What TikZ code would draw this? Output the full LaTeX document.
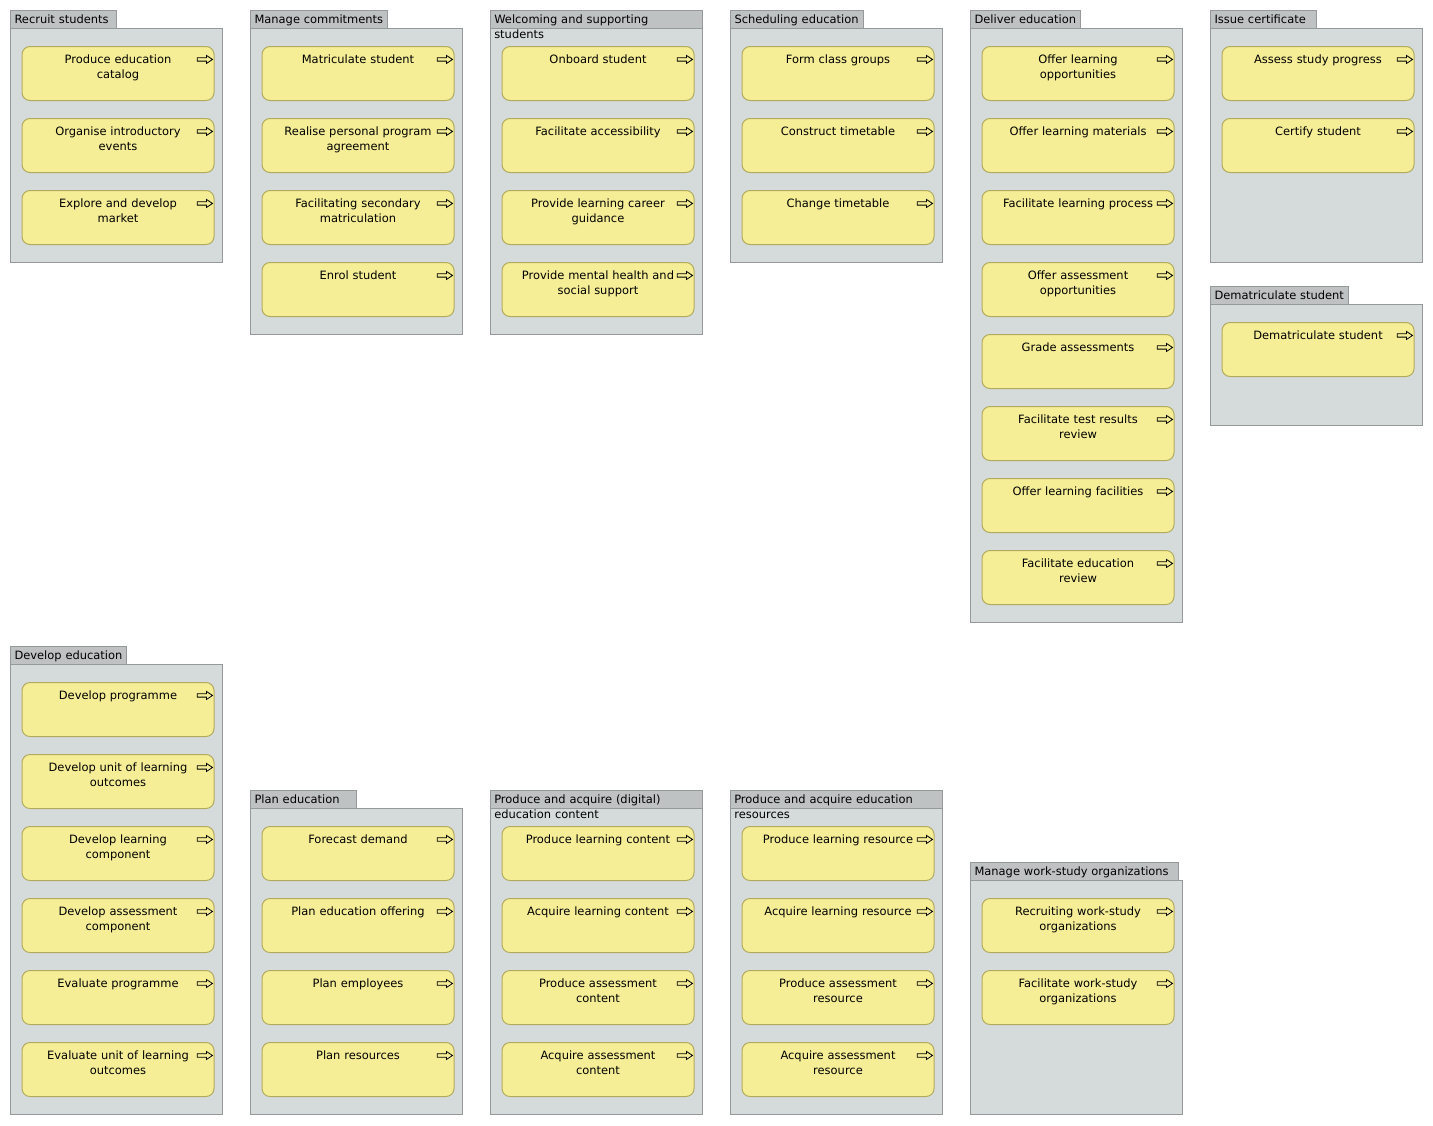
\documentclass[tikz,border=0pt]{standalone}
\usepackage{fontspec}
\setmainfont{DejaVu Sans}
\usetikzlibrary{positioning}

\definecolor{groupfill}{RGB}{213,218,219}
\definecolor{tabfill}{RGB}{191,194,195}
\definecolor{groupline}{RGB}{150,153,154}
\definecolor{procfill}{RGB}{245,238,151}
\definecolor{procline}{RGB}{180,170,94}

\newcommand{\lab}{\fontsize{8.6pt}{11.25pt}\selectfont}

\begin{document}
\begin{tikzpicture}[x = 0.75pt, y = -0.75pt,
    groupbody/.style = {draw = groupline, fill = groupfill, line width = 0.75pt},
    tabrect/.style = {draw = groupline, fill = tabfill, line width = 0.75pt},
    grouptab/.style = {tabrect, anchor = north west, font = \lab,
        text width = #1, align = left,
        inner xsep = 3pt, inner ysep = 0pt, text height = 9.75pt, text depth = 3.75pt},
    grouplabel/.style = {anchor = north west, font = \lab, align = left,
        text width = 153pt, inner sep = 0pt, text height = 9.75pt},
    proc/.style = {draw = procline, fill = procfill, line width = 0.75pt,
        rounded corners = 6pt, anchor = north, font = \lab,
        minimum width = 144pt, text width = 135pt, inner xsep = 4.5pt, inner ysep = 0pt,
        align = center, text height = 12.4pt, text depth = 28.1pt},
    procicon/.style = {draw = black, line width = 0.6pt, sharp corners}
]

    % Page size.
    \useasboundingbox (0, 0) rectangle (1433, 1125);

    % Recruit students.
    \draw[groupbody] (10, 28) rectangle (222, 262);
    \node[grouptab = 73.5pt] (rst) at (10, 10) {Recruit students};
    \node[proc] (rs1) at (118, 46) {Produce education\\catalog};
    \node[proc] (rs2) at (118, 118) {Organise introductory\\events};
    \node[proc] (rs3) at (118, 190) {Explore and develop\\market};

    % Manage commitments.
    \draw[groupbody] (250, 28) rectangle (462, 334);
    \node[grouptab = 96.75pt] (mct) at (250, 10) {Manage commitments};
    \node[proc] (mc1) at (358, 46) {Matriculate student};
    \node[proc] (mc2) at (358, 118) {Realise personal program\\agreement};
    \node[proc] (mc3) at (358, 190) {Facilitating secondary\\matriculation};
    \node[proc] (mc4) at (358, 262) {Enrol student};

    % Welcoming and supporting students.
    \draw[groupbody] (490, 28) rectangle (702, 334);
    \draw[tabrect] (490, 10) rectangle (702, 28);
    \node[grouplabel] (wst) at (494, 10) {Welcoming and supporting\\students};
    \node[proc] (ws1) at (598, 46) {Onboard student};
    \node[proc] (ws2) at (598, 118) {Facilitate accessibility};
    \node[proc] (ws3) at (598, 190) {Provide learning career\\guidance};
    \node[proc] (ws4) at (598, 262) {Provide mental health and\\social support};

    % Scheduling education.
    \draw[groupbody] (730, 28) rectangle (942, 262);
    \node[grouptab = 93.75pt] (set) at (730, 10) {Scheduling education};
    \node[proc] (se1) at (838, 46) {Form class groups};
    \node[proc] (se2) at (838, 118) {Construct timetable};
    \node[proc] (se3) at (838, 190) {Change timetable};

    % Deliver education.
    \draw[groupbody] (970, 28) rectangle (1182, 622);
    \node[grouptab = 76.5pt] (det) at (970, 10) {Deliver education};
    \node[proc] (de1) at (1078, 46) {Offer learning\\opportunities};
    \node[proc] (de2) at (1078, 118) {Offer learning materials};
    \node[proc] (de3) at (1078, 190) {Facilitate learning process};
    \node[proc] (de4) at (1078, 262) {Offer assessment\\opportunities};
    \node[proc] (de5) at (1078, 334) {Grade assessments};
    \node[proc] (de6) at (1078, 406) {Facilitate test results\\review};
    \node[proc] (de7) at (1078, 478) {Offer learning facilities};
    \node[proc] (de8) at (1078, 550) {Facilitate education\\review};

    % Issue certificate.
    \draw[groupbody] (1210, 28) rectangle (1422, 262);
    \node[grouptab = 73.5pt] (ict) at (1210, 10) {Issue certificate};
    \node[proc] (ic1) at (1318, 46) {Assess study progress};
    \node[proc] (ic2) at (1318, 118) {Certify student};

    % Dematriculate student.
    \draw[groupbody] (1210, 304) rectangle (1422, 425);
    \node[grouptab = 97.5pt] (dst) at (1210, 286) {Dematriculate student};
    \node[proc] (ds1) at (1318, 322) {Dematriculate student};

    % Develop education.
    \draw[groupbody] (10, 664) rectangle (222, 1114);
    \node[grouptab = 81pt] (dvt) at (10, 646) {Develop education};
    \node[proc] (dv1) at (118, 682) {Develop programme};
    \node[proc] (dv2) at (118, 754) {Develop unit of learning\\outcomes};
    \node[proc] (dv3) at (118, 826) {Develop learning\\component};
    \node[proc] (dv4) at (118, 898) {Develop assessment\\component};
    \node[proc] (dv5) at (118, 970) {Evaluate programme};
    \node[proc] (dv6) at (118, 1042) {Evaluate unit of learning\\outcomes};

    % Plan education.
    \draw[groupbody] (250, 808) rectangle (462, 1114);
    \node[grouptab = 73.5pt] (pet) at (250, 790) {Plan education};
    \node[proc] (pe1) at (358, 826) {Forecast demand};
    \node[proc] (pe2) at (358, 898) {Plan education offering};
    \node[proc] (pe3) at (358, 970) {Plan employees};
    \node[proc] (pe4) at (358, 1042) {Plan resources};

    % Produce and acquire (digital) education content.
    \draw[groupbody] (490, 808) rectangle (702, 1114);
    \draw[tabrect] (490, 790) rectangle (702, 808);
    \node[grouplabel] (pct) at (494, 790) {Produce and acquire (digital)\\education content};
    \node[proc] (pc1) at (598, 826) {Produce learning content};
    \node[proc] (pc2) at (598, 898) {Acquire learning content};
    \node[proc] (pc3) at (598, 970) {Produce assessment\\content};
    \node[proc] (pc4) at (598, 1042) {Acquire assessment\\content};

    % Produce and acquire education resources.
    \draw[groupbody] (730, 808) rectangle (942, 1114);
    \draw[tabrect] (730, 790) rectangle (942, 808);
    \node[grouplabel] (prt) at (734, 790) {Produce and acquire education\\resources};
    \node[proc] (pr1) at (838, 826) {Produce learning resource};
    \node[proc] (pr2) at (838, 898) {Acquire learning resource};
    \node[proc] (pr3) at (838, 970) {Produce assessment\\resource};
    \node[proc] (pr4) at (838, 1042) {Acquire assessment\\resource};

    % Manage work-study organizations.
    \draw[groupbody] (970, 880) rectangle (1182, 1114);
    \node[grouptab = 150pt] (mwt) at (970, 862) {Manage work-study organizations};
    \node[proc] (mw1) at (1078, 898) {Recruiting work-study\\organizations};
    \node[proc] (mw2) at (1078, 970) {Facilitate work-study\\organizations};

    % Process arrow in the top right corner of every box.
    \foreach \p in {rs1, rs2, rs3, mc1, mc2, mc3, mc4, ws1, ws2, ws3, ws4,
            se1, se2, se3, de1, de2, de3, de4, de5, de6, de7, de8, ic1, ic2, ds1,
            dv1, dv2, dv3, dv4, dv5, dv6, pe1, pe2, pe3, pe4, pc1, pc2, pc3, pc4,
            pr1, pr2, pr3, pr4, mw1, mw2}
        \draw[procicon] (\p.north east) ++(-1.5pt, -10.1pt) -- ++(-4.5pt, 3pt)
            -- ++(0pt, -1.75pt) -- ++(-7pt, 0pt) -- ++(0pt, -2.5pt) -- ++(7pt, 0pt)
            -- ++(0pt, -1.75pt) -- cycle;

\end{tikzpicture}
\end{document}
